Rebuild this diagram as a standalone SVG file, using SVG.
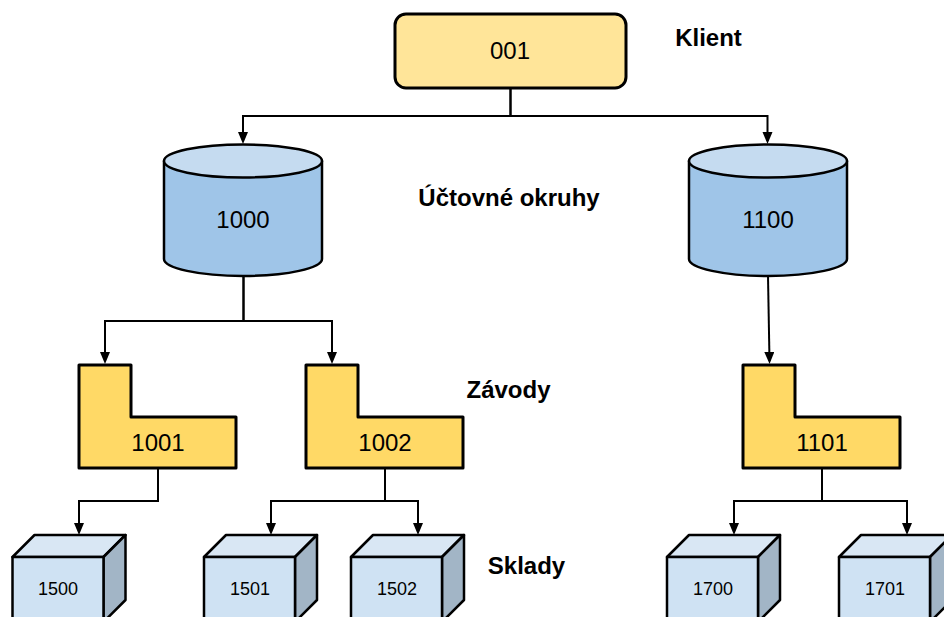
<svg xmlns="http://www.w3.org/2000/svg" width="944" height="617" viewBox="0 0 944 617">
<style>
text{font-family:"Liberation Sans",Arial,sans-serif;fill:#000;text-anchor:middle}
.t{font-size:24px}.s{font-size:18px}.b{font-size:24px;font-weight:bold}
.o{stroke:#000;stroke-width:2.5;stroke-linejoin:round}
.h{stroke:#000;stroke-width:3;stroke-linejoin:round}
.cf{fill:#cfe2f3}.cs{fill:#a2b5c6}.ct{fill:#d9e7f4}
.l{fill:#ffd966}.cy{fill:#9fc5e8}.ce{fill:#c5dbf0}
.c{fill:none;stroke:#000;stroke-width:2}
</style>
<defs>
<marker id="a" markerUnits="userSpaceOnUse" markerWidth="13" markerHeight="11" refX="9" refY="5" orient="auto"><path d="M0 0L12 5L0 10Z" fill="#000"/></marker>
<g id="cube"><path class="o ct" d="M0 22L22 0H113L91 22Z"/><path class="o cs" d="M91 22L113 0V65L91 87Z"/><rect class="o cf" x="0" y="22" width="91" height="65"/></g>
<g id="cyl"><path class="o cy" d="M0 17V115C0 124 35 132 79 132S158 124 158 115V17Z"/><ellipse class="o ce" cx="79" cy="17" rx="79" ry="16.5"/></g>
<path id="ell" class="h l" d="M0 0H52V52H157V103H0Z"/>
</defs>
<g id="connectors" class="c">
<path class="c" marker-end="url(#a)" d="M510.500 88V116H243V141"/>
<path class="c" marker-end="url(#a)" d="M510.500 88V116H767.500V141"/>
<path class="c" marker-end="url(#a)" d="M243.500 276V321H105V361"/>
<path class="c" marker-end="url(#a)" d="M243.500 276V321H332V361"/>
<path class="c" marker-end="url(#a)" d="M768 276L769.500 361"/>
<path class="c" marker-end="url(#a)" d="M158 468V501H79V532"/>
<path class="c" marker-end="url(#a)" d="M385 468V501H271V532"/>
<path class="c" marker-end="url(#a)" d="M385 468V501H418V532"/>
<path class="c" marker-end="url(#a)" d="M822 468V501H734V532"/>
<path class="c" marker-end="url(#a)" d="M822 468V501H907V532"/>
</g>
<g id="n001"><rect class="h" x="395" y="14" width="231" height="74" rx="11" fill="#ffe599"/><text class="t" x="510" y="59">001</text></g>
<g id="n1000"><use href="#cyl" x="164" y="144"/><text class="t" x="243" y="228">1000</text></g>
<g id="n1100"><use href="#cyl" x="689" y="144"/><text class="t" x="768" y="228">1100</text></g>
<g id="n1001"><use href="#ell" x="79" y="365"/><text class="t" x="158" y="451">1001</text></g>
<g id="n1002"><use href="#ell" x="306" y="365"/><text class="t" x="385" y="451">1002</text></g>
<g id="n1101"><use href="#ell" x="743" y="365"/><text class="t" x="822" y="451">1101</text></g>
<g id="n1500"><use href="#cube" x="12.500" y="535"/><text class="s" x="58" y="595">1500</text></g>
<g id="n1501"><use href="#cube" x="204" y="535"/><text class="s" x="250" y="595">1501</text></g>
<g id="n1502"><use href="#cube" x="351" y="535"/><text class="s" x="397" y="595">1502</text></g>
<g id="n1700"><use href="#cube" x="667" y="535"/><text class="s" x="713" y="595">1700</text></g>
<g id="n1701"><use href="#cube" x="839" y="535"/><text class="s" x="885" y="595">1701</text></g>
<g id="labels">
<text class="b" x="708.500" y="46">Klient</text>
<text class="b" x="509" y="206">Účtovné okruhy</text>
<text class="b" x="508.500" y="398">Závody</text>
<text class="b" x="526.500" y="574">Sklady</text>
</g>
</svg>
